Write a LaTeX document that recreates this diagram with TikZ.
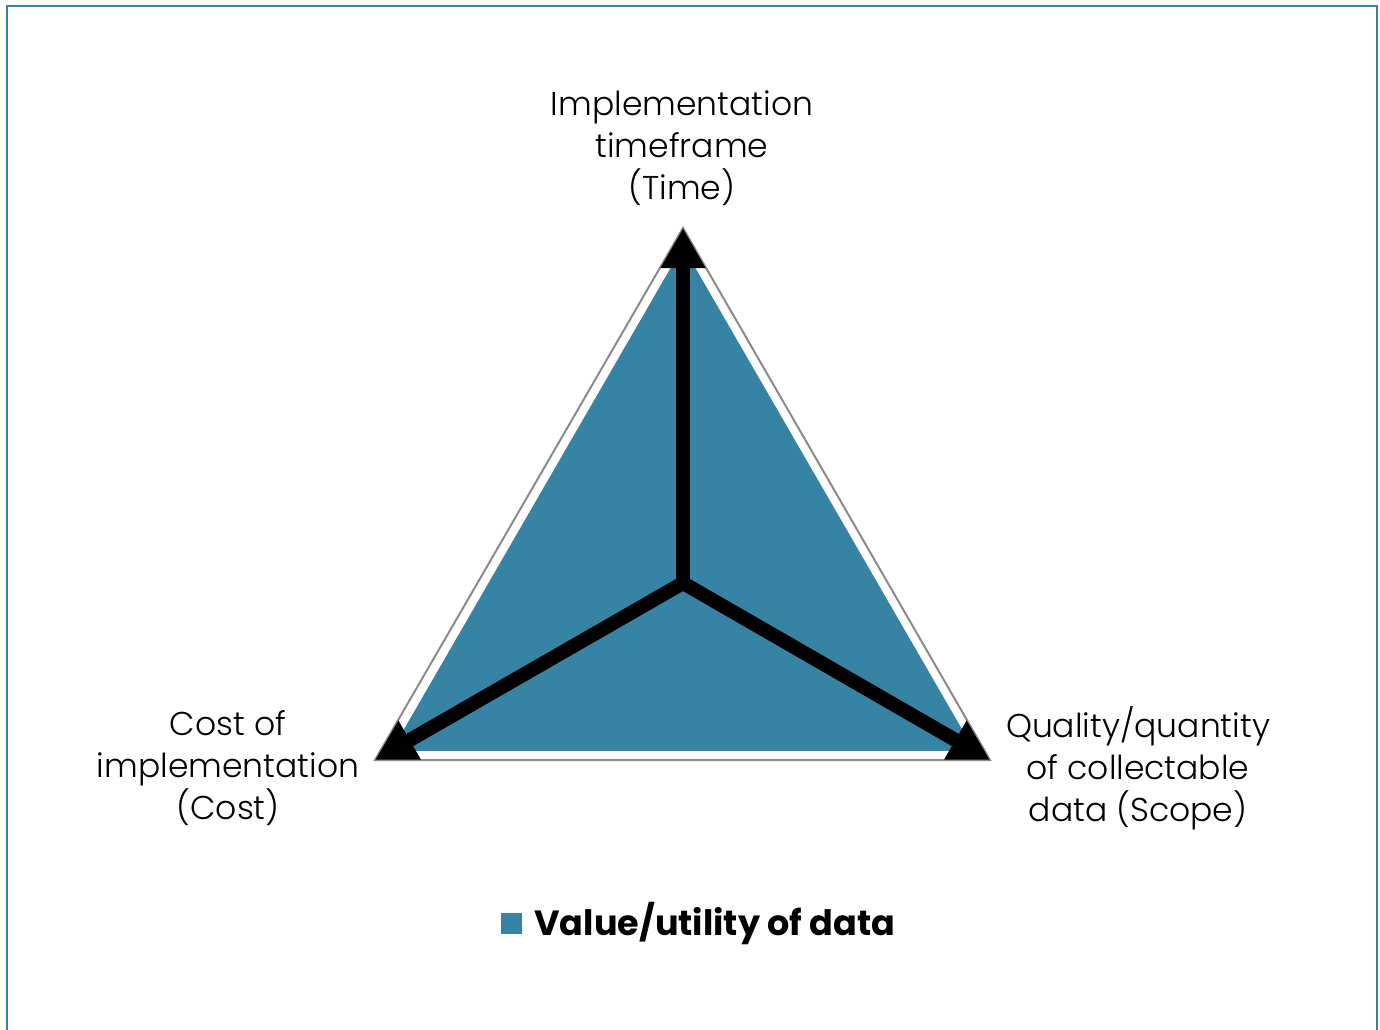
\documentclass[tikz,border=0pt]{standalone}
\usepackage{fontspec}
\setmainfont{Poppins}[UprightFont=* Light, BoldFont=* Bold]
\usetikzlibrary{arrows.meta,positioning}
\definecolor{valueteal}{RGB}{55,131,163}
\definecolor{edgegrey}{RGB}{138,138,138}

\begin{document}
\begin{tikzpicture}[x=1pt,y=1pt,yscale=-1,xscale=1,
	axisarrow/.style={line width=14pt,-{Triangle[length=40pt,width=42pt]}},
	axistext/.style={inner sep=0pt,align=center,font=\fontsize{33}{42}\selectfont}]
	\useasboundingbox (0,0) rectangle (1380,1029);
	
	%Shape: Rectangle [frame]
	\draw [valueteal, line width=2.5pt] (7,6) rectangle (1377,1040);
	
	\coordinate (top) at (683,228);
	\coordinate (left) at (375,760);
	\coordinate (right) at (990,760);
	\coordinate (centre) at (683,583);
	
	%Shape: Triangle [value area]
	\fill [valueteal] (683,246.5) -- (391.5,750.8) -- (974.5,750.8) -- cycle;
	%Shape: Triangle [outline]
	\draw [edgegrey, line width=2pt] (top) -- (left) -- (right) -- cycle;
	
	%Straight Lines [axes]
	\draw [axisarrow] (centre) -- (top);
	\draw [axisarrow] (centre) -- (left);
	\draw [axisarrow] (centre) -- (right);
	
	% Text Node
	\node [axistext] (time) at (682,148) {Implementation\\timeframe\\(Time)};
	% Text Node
	\node [axistext] (cost) at (228,768) {Cost of\\implementation\\(Cost)};
	% Text Node
	\node [axistext] (scope) at (1138,768) {Quality/quantity\\of collectable\\data (Scope)};
	
	% Legend
	\node [fill=valueteal, minimum size=21pt, inner sep=0pt] (key) at (511.5,923.5) {};
	\node [right=12pt of key, inner sep=0pt, font=\bfseries\fontsize{35}{42}\selectfont] (keytext) {Value/utility of data};
	
\end{tikzpicture}
\end{document}
